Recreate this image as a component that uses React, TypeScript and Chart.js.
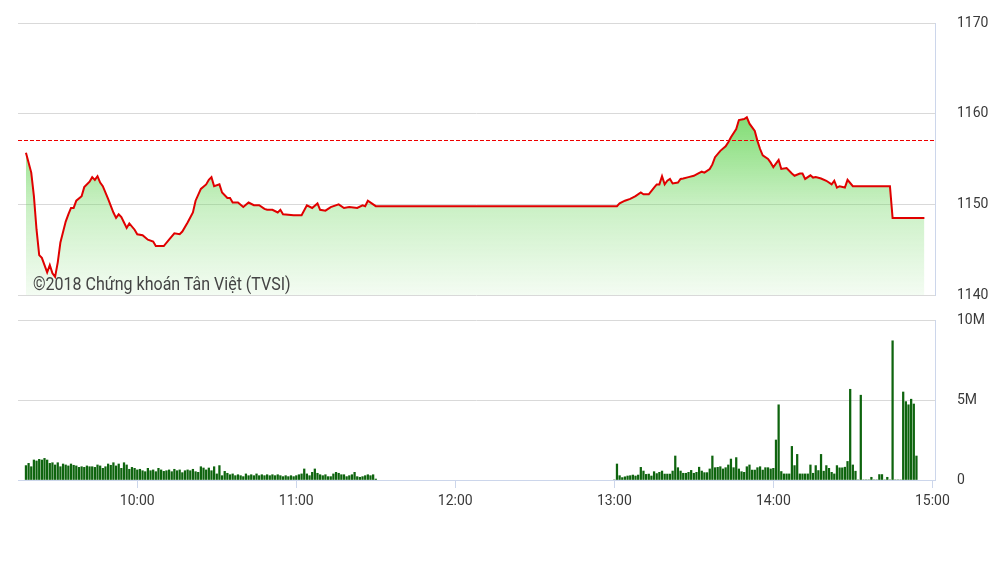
import React, { useEffect, useRef } from "react";
import { Chart, registerables } from "chart.js";

Chart.register(...registerables);

// ---------- data ----------
const axisStart = "09:15";
const axisEnd = "15:01";
const hourTicks = ["10:00", "11:00", "12:00", "13:00", "14:00", "15:00"];

const priceTicks = [1140, 1150, 1160, 1170];
const referencePrice = 1157.04;

const priceTimes = [
  "09:18", "09:20", "09:21", "09:22", "09:23", "09:24", "09:26", "09:27", "09:28", "09:29",
  "09:30", "09:31", "09:33", "09:34", "09:35", "09:36", "09:37", "09:39", "09:40", "09:42",
  "09:43", "09:44", "09:45", "09:46", "09:47", "09:49", "09:51", "09:52", "09:53", "09:54",
  "09:55", "09:56", "09:57", "09:59", "10:00", "10:02", "10:04", "10:06", "10:07", "10:10",
  "10:12", "10:14", "10:16", "10:17", "10:19", "10:21", "10:22", "10:24", "10:26", "10:27",
  "10:28", "10:29", "10:31", "10:32", "10:34", "10:35", "10:36", "10:38", "10:40", "10:42",
  "10:44", "10:46", "10:48", "10:49", "10:51", "10:53", "10:54", "10:55", "10:59", "11:02",
  "11:04", "11:06", "11:08", "11:09", "11:11", "11:13", "11:16", "11:18", "11:20", "11:23",
  "11:25", "11:26", "11:27", "11:30",
  "13:00", "13:01", "13:02", "13:04", "13:06", "13:08", "13:10", "13:11", "13:13", "13:15",
  "13:16", "13:17", "13:18", "13:19", "13:20", "13:21", "13:22", "13:24", "13:25", "13:26",
  "13:28", "13:30", "13:31", "13:33", "13:34", "13:36", "13:37", "13:38", "13:40", "13:42",
  "13:43", "13:44", "13:46", "13:47", "13:49", "13:50", "13:51", "13:53", "13:54", "13:55",
  "13:56", "13:58", "13:59", "14:00", "14:02", "14:03", "14:05", "14:07", "14:08", "14:10",
  "14:11", "14:12", "14:14", "14:15", "14:16", "14:18", "14:20", "14:22", "14:23", "14:24",
  "14:25", "14:27", "14:28", "14:30", "14:44", "14:45", "14:57",
];

const priceValues = [
  1155.7, 1153.5, 1150.9, 1147.2, 1144.4, 1144.1, 1142.5, 1143.3, 1142.4, 1142.0,
  1143.6, 1145.8, 1148.1, 1148.9, 1149.6, 1149.6, 1150.4, 1150.9, 1151.9, 1152.5,
  1153.0, 1152.7, 1153.1, 1152.4, 1152.0, 1150.6, 1149.1, 1148.5, 1148.9, 1148.6,
  1148.0, 1147.4, 1147.9, 1147.2, 1146.7, 1146.6, 1146.1, 1145.9, 1145.4, 1145.4,
  1146.1, 1146.8, 1146.7, 1147.0, 1148.0, 1149.1, 1150.4, 1151.7, 1152.2, 1152.7,
  1153.0, 1152.0, 1152.2, 1151.3, 1150.7, 1150.7, 1150.2, 1150.2, 1149.7, 1150.2,
  1149.9, 1149.9, 1149.5, 1149.4, 1149.4, 1149.1, 1149.4, 1148.9, 1148.8, 1148.8,
  1149.9, 1149.6, 1150.1, 1149.4, 1149.3, 1149.7, 1150.0, 1149.6, 1149.7, 1149.6,
  1149.9, 1149.8, 1150.4, 1149.8,
  1149.8, 1149.8, 1150.1, 1150.4, 1150.6, 1150.9, 1151.3, 1151.1, 1151.1, 1151.85,
  1152.2, 1152.2, 1153.1, 1152.2, 1152.6, 1152.8, 1152.3, 1152.4, 1152.8, 1152.85,
  1153.0, 1153.15, 1153.3, 1153.6, 1153.5, 1153.9, 1154.4, 1155.2, 1155.9, 1156.4,
  1156.85, 1157.4, 1158.3, 1159.3, 1159.4, 1159.6, 1158.9, 1158.1, 1157.0, 1156.1,
  1155.4, 1155.0, 1154.6, 1154.1, 1154.9, 1153.9, 1154.0, 1153.4, 1153.15, 1153.4,
  1153.4, 1152.8, 1153.2, 1152.95, 1153.0, 1152.85, 1152.6, 1152.2, 1152.6, 1151.85,
  1152.0, 1151.85, 1152.7, 1152.0, 1152.0, 1148.5, 1148.5,
];

const volumeTicks = [0, 5, 10];
const volumeTickLabels = ["0", "5M", "10M"];

// volumes in millions of shares, one bar per minute
const morningStart = "09:18";
const morningVolumes = [
  0.9, 1.04, 0.83, 1.25, 1.19, 1.29, 1.25, 1.35, 1.25, 1.04,
  1.08, 0.94, 1.08, 0.83, 1.0, 0.94, 0.88, 1.0, 0.92, 0.88,
  0.79, 0.83, 0.79, 0.88, 0.83, 0.83, 0.79, 0.94, 0.88, 0.73,
  0.83, 1.0, 0.92, 1.08, 0.88, 1.0, 0.73, 1.08, 0.94, 0.67,
  0.79, 0.73, 0.63, 0.67, 0.58, 0.52, 0.73, 0.58, 0.63, 0.52,
  0.73, 0.63, 0.54, 0.58, 0.63, 0.52, 0.67, 0.58, 0.63, 0.46,
  0.58, 0.63, 0.58, 0.67, 0.52, 0.48, 0.83, 0.75, 0.63, 0.75,
  0.58, 0.83, 0.38, 0.9, 0.27, 0.54, 0.42, 0.33, 0.38, 0.27,
  0.33, 0.27, 0.21, 0.38, 0.27, 0.33, 0.27, 0.38, 0.27, 0.33,
  0.27, 0.33, 0.27, 0.33, 0.27, 0.33, 0.27, 0.21, 0.27, 0.21,
  0.27, 0.21, 0.27, 0.33, 0.38, 0.69, 0.38, 0.27, 0.48, 0.69,
  0.42, 0.33, 0.27, 0.33, 0.21, 0.21, 0.38, 0.48, 0.42, 0.33,
  0.33, 0.21, 0.27, 0.33, 0.48, 0.21, 0.17, 0.21, 0.27, 0.33,
  0.27, 0.33, 0.06,
];

const afternoonStart = "13:00";
const afternoonVolumes = [
  0, 1.0, 0.27, 0.15, 0.2, 0.25, 0.27, 0.31, 0.25, 0.31,
  0.79, 0.56, 0.35, 0.37, 0.25, 0.52, 0.4, 0.48, 0.56, 0.37,
  0.37, 0.37, 0.56, 1.5, 0.77, 0.56, 0.42, 0.42, 0.48, 0.6,
  0.42, 0.48, 0.8, 0.56, 0.46, 0.46, 0.69, 1.5, 0.77, 0.79,
  0.83, 0.69, 0.77, 0.94, 1.31, 0.77, 1.4, 0.69, 0.52, 0.48,
  0.83, 0.94, 0.62, 0.62, 0.77, 0.83, 0.62, 0.77, 0.77, 0.69,
  0.73, 2.5, 4.7, 0.53, 0.38, 0.38, 0.38, 2.1, 0.9, 1.6,
  0.38, 0.38, 0.38, 0.38, 0.94, 0.42, 0.9, 0.59, 1.6, 0.55,
  0.9, 0.73, 0.48, 0.38, 0.9, 0.76, 0.76, 0.8, 1.16, 5.67,
  0.94, 0.55, 0, 5.3, 0, 0, 0, 0.17, 0, 0,
  0.34, 0.34, 0, 0.17, 0, 8.7, 0, 0, 0, 5.5,
  4.9, 4.7, 5.05, 4.75, 1.5,
];

const watermark = "©2018 Chứng khoán Tân Việt (TVSI)";

// ---------- helpers ----------
const toMin = (s: string) => {
  const [h, m] = s.split(":").map(Number);
  return h * 60 + m;
};
const fmtTime = (v: number) => {
  const h = Math.floor(v / 60);
  const m = Math.round(v - h * 60);
  return `${h < 10 ? "0" + h : h}:${m < 10 ? "0" + m : m}`;
};

const W = 1004;
const PLOT_LEFT = 18;
const AXIS_W = 69;
const FONT = { family: "Roboto", size: 14 };
const LABEL_COLOR = "#3a3a3a";
const GRID_COLOR = "#d9d9d9";
const AXIS_COLOR = "#ccd6eb";
const LINE_RED = "#e00000";
const DASH_RED = "#ee0000";
const BAR_GREEN = "#0e640e";

const rightAxisGrid = {
  color: GRID_COLOR,
  drawTicks: true,
  tickLength: 22,
  tickColor: "rgba(0,0,0,0)",
};

export default function App() {
  const priceRef = useRef<HTMLCanvasElement | null>(null);
  const volRef = useRef<HTMLCanvasElement | null>(null);

  useEffect(() => {
    const xMin = toMin(axisStart);
    const xMax = toMin(axisEnd);

    const pricePoints = priceTimes.map((t, i) => ({ x: toMin(t), y: priceValues[i] }));
    const refPoints = [
      { x: xMin, y: referencePrice },
      { x: xMax, y: referencePrice },
    ];

    const priceChart = new Chart(priceRef.current!, {
      type: "line",
      data: {
        datasets: [
          {
            data: pricePoints,
            borderColor: LINE_RED,
            borderWidth: 2,
            pointRadius: 0,
            tension: 0,
            fill: "start",
            order: 1,
            backgroundColor: (c: any) => {
              const chart = c.chart;
              const ca = chart.chartArea;
              if (!ca) return "rgba(110,215,95,0.5)";
              const g = chart.ctx.createLinearGradient(0, ca.top, 0, ca.bottom);
              g.addColorStop(0, "rgba(110,215,95,0.95)");
              g.addColorStop(0.35, "rgba(110,215,95,0.86)");
              g.addColorStop(0.67, "rgba(110,215,95,0.37)");
              g.addColorStop(1, "rgba(110,215,95,0.08)");
              return g;
            },
          },
          {
            data: refPoints,
            borderColor: DASH_RED,
            borderWidth: 1,
            borderDash: [4, 2],
            pointRadius: 0,
            fill: false,
            order: 0,
          },
        ],
      },
      options: {
        animation: false,
        responsive: false,
        events: [],
        layout: { padding: { left: PLOT_LEFT, top: 23, right: 0, bottom: 15 } },
        plugins: { legend: { display: false }, tooltip: { enabled: false } },
        scales: {
          x: { type: "linear", display: false, min: xMin, max: xMax },
          y: {
            position: "right",
            min: priceTicks[0],
            max: priceTicks[priceTicks.length - 1],
            afterBuildTicks: (s: any) => {
              s.ticks = priceTicks.map((v) => ({ value: v }));
            },
            afterFit: (s: any) => {
              s.width = AXIS_W;
            },
            grid: rightAxisGrid,
            border: { display: true, color: AXIS_COLOR },
            ticks: {
              padding: 0,
              color: LABEL_COLOR,
              font: FONT,
              callback: (v: any) => String(v),
            },
          },
        },
      },
    } as any);

    const volPoints: { x: number; y: number }[] = [];
    morningVolumes.forEach((v, i) => volPoints.push({ x: toMin(morningStart) + i, y: v }));
    afternoonVolumes.forEach((v, i) => volPoints.push({ x: toMin(afternoonStart) + i, y: v }));

    const volChart = new Chart(volRef.current!, {
      type: "bar",
      data: {
        datasets: [
          {
            data: volPoints,
            backgroundColor: BAR_GREEN,
            borderWidth: 0,
            barThickness: 1.6,
          },
        ],
      },
      options: {
        animation: false,
        responsive: false,
        events: [],
        layout: { padding: { left: PLOT_LEFT, top: 10, right: 0, bottom: 0 } },
        plugins: { legend: { display: false }, tooltip: { enabled: false } },
        scales: {
          x: {
            type: "linear",
            offset: false,
            min: xMin,
            max: xMax,
            afterBuildTicks: (s: any) => {
              s.ticks = hourTicks.map((t) => ({ value: toMin(t) }));
            },
            afterFit: (s: any) => {
              s.height = 84;
            },
            ticks: {
              autoSkip: false,
              maxRotation: 0,
              padding: 5,
              color: LABEL_COLOR,
              font: FONT,
              callback: (v: any) => fmtTime(Number(v)),
            },
            grid: {
              offset: false,
              drawOnChartArea: false,
              drawTicks: true,
              tickLength: 8,
              tickColor: AXIS_COLOR,
            },
            border: { display: true, color: AXIS_COLOR },
          },
          y: {
            position: "right",
            min: volumeTicks[0],
            max: volumeTicks[volumeTicks.length - 1],
            afterBuildTicks: (s: any) => {
              s.ticks = volumeTicks.map((v) => ({ value: v }));
            },
            afterFit: (s: any) => {
              s.width = AXIS_W;
            },
            grid: rightAxisGrid,
            border: { display: true, color: AXIS_COLOR },
            ticks: {
              padding: 0,
              color: LABEL_COLOR,
              font: FONT,
              callback: (v: any) => volumeTickLabels[volumeTicks.indexOf(Number(v))] ?? "",
            },
          },
        },
      },
    } as any);

    return () => {
      priceChart.destroy();
      volChart.destroy();
    };
  }, []);

  return (
    <div
      style={{
        position: "absolute",
        left: 0,
        top: 0,
        width: W,
        height: 564,
        background: "#fff",
        overflow: "hidden",
      }}
    >
      <canvas
        ref={priceRef}
        width={W}
        height={310}
        style={{ position: "absolute", left: 0, top: 0, display: "block" }}
      />
      <canvas
        ref={volRef}
        width={W}
        height={254}
        style={{ position: "absolute", left: 0, top: 310, display: "block" }}
      />
      <div
        style={{
          position: "absolute",
          left: 33,
          top: 274,
          fontFamily: "Roboto",
          fontSize: 18,
          lineHeight: "20px",
          color: "#444",
          whiteSpace: "nowrap",
          transform: "scaleX(0.89)",
          transformOrigin: "left top",
        }}
      >
        {watermark}
      </div>
    </div>
  );
}
